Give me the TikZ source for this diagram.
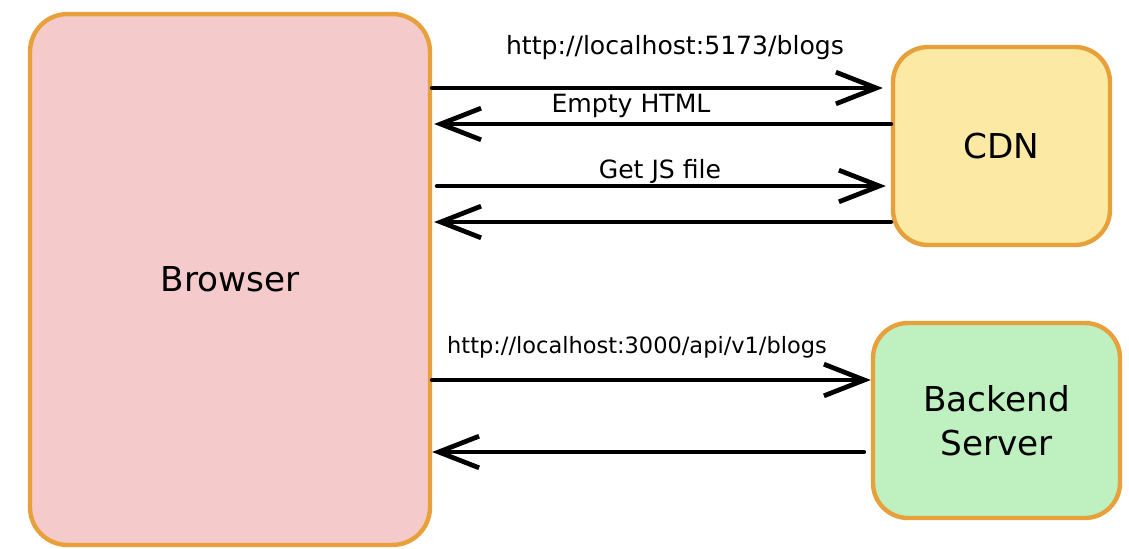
\documentclass[tikz,border=0pt]{standalone}
\usepackage{fontspec}
\setmainfont{DejaVu Sans}
\usetikzlibrary{arrows.meta}

\definecolor{boxline}{RGB}{232,160,58}
\definecolor{browserfill}{RGB}{245,202,202}
\definecolor{cdnfill}{RGB}{252,233,163}
\definecolor{backendfill}{RGB}{190,240,192}

\tikzset{
  box/.style={draw=boxline, line width=2.5pt, rounded corners=0.75cm,
    align=center, font=\fontsize{19.5}{25}\selectfont},
  flow/.style={line width=2.7pt, line cap=round,
    -{Straight Barb[length=23pt,width=18pt]}},
  lbl/.style={font=\fontsize{14.3}{17}\selectfont}
}

\begin{document}
\begin{tikzpicture}[x=0.02cm, y=-0.02cm]
\useasboundingbox (0,0) rectangle (1129,548);

% boxes
\node[box, fill=browserfill, minimum width=8cm, minimum height=10.62cm] (browser) at (230,279.5) {Browser};
\node[box, fill=cdnfill, minimum width=4.34cm, minimum height=3.96cm, rounded corners=0.7cm] (cdn) at (1001.5,146) {CDN};
\node[box, fill=backendfill, minimum width=4.94cm, minimum height=3.9cm, rounded corners=0.7cm] (backend) at (996.5,420.5) {Backend\\Server};

% requests and responses
\draw[flow] (browser.east |- 0,88) -- ([xshift=-0.16cm]cdn.west |- 0,88);
\draw[flow] (cdn.west |- 0,124) -- ([xshift=0.04cm]browser.east |- 0,124);
\draw[flow] ([xshift=0.1cm]browser.east |- 0,186) -- ([xshift=-0.1cm]cdn.west |- 0,186);
\draw[flow] (cdn.west |- 0,222) -- ([xshift=0.04cm]browser.east |- 0,222);
\draw[flow] (browser.east |- 0,380) -- (backend.west |- 0,380);
\draw[flow] ([xshift=-0.14cm]backend.west |- 0,452) -- (browser.east |- 0,452);

% labels
\node[lbl] (req1) at (675,48) {http://localhost:5173/blogs};
\node[lbl] (res1) at (631,106) {Empty HTML};
\node[lbl] (req2) at (660,171) {Get JS file};
\node[lbl, font=\fontsize{12.8}{15}\selectfont] (req3) at (637,347) {http://localhost:3000/api/v1/blogs};
\end{tikzpicture}
\end{document}
